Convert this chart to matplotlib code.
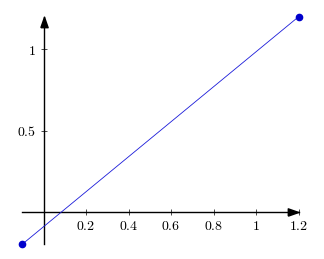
import matplotlib
matplotlib.use("Agg")
import matplotlib.pyplot as plt

x_vals = [-0.1, 1.2]
y_vals = [-0.2, 1.2]
xticks = [0.2, 0.4, 0.6, 0.8, 1.0, 1.2]
xtick_labels = ["0.2", "0.4", "0.6", "0.8", "1", "1.2"]
yticks = [0.5, 1.0]
ytick_labels = ["0.5", "1"]

plt.rcParams['mathtext.fontset'] = 'cm'
plt.rcParams['font.family'] = 'serif'
plt.rcParams['font.serif'] = ['DejaVu Serif']

fig = plt.figure(figsize=(3.24, 2.59), dpi=100)
ax = fig.add_axes([0.0688, 0.0571, 0.8525, 0.878])
ax.plot(x_vals, y_vals, color=(0.1, 0.1, 0.85), lw=0.6, marker='o', ms=4.5,
        markerfacecolor=(0, 0, 0.8), markeredgecolor=(0, 0, 0.8), clip_on=False, zorder=5)
ax.set_xlim(-0.1, 1.2)
ax.set_ylim(-0.2, 1.2)

for s in ['top', 'right']:
    ax.spines[s].set_visible(False)
ax.spines['left'].set_position(('data', 0))
ax.spines['bottom'].set_position(('data', 0))
ax.spines['left'].set_linewidth(1.0)
ax.spines['bottom'].set_linewidth(1.0)

ax.set_xticks(xticks)
ax.set_xticklabels(['$' + t + '$' for t in xtick_labels])
ax.set_yticks(yticks)
ax.set_yticklabels(['$' + t + '$' for t in ytick_labels])
ax.tick_params(direction='inout', length=5, width=0.5, labelsize=10, pad=3)

right_arrow = [(-1, -0.7), (1, 0), (-1, 0.7), (-1, -0.7)]
up_arrow = [(-0.7, -1), (0, 1), (0.7, -1), (-0.7, -1)]
ax.plot(1.2 - 5.3 / 212.5, 0, marker=right_arrow, color='k', ms=7.5, clip_on=False, zorder=6)
ax.plot(0, 1.2 - 5.3 / 162.4, marker=up_arrow, color='k', ms=7.5, clip_on=False, zorder=6)

fig.savefig('out.png', dpi=100)
